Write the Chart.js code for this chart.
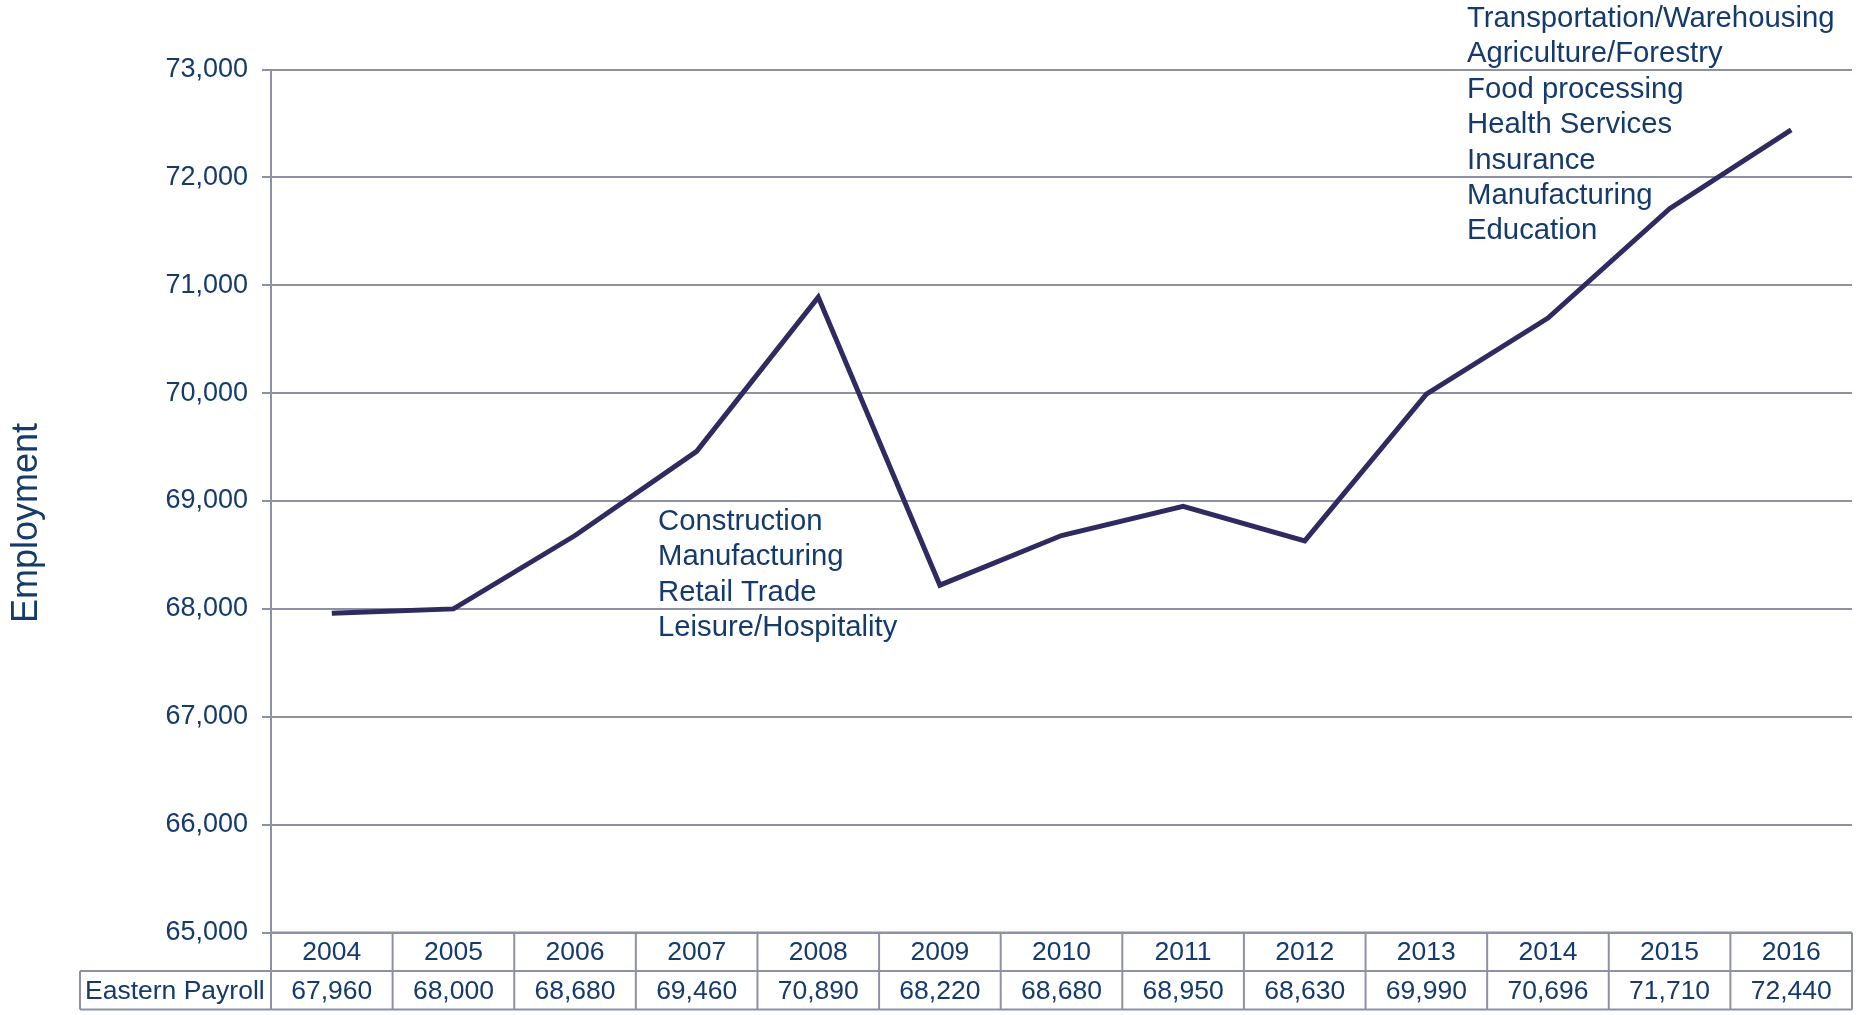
<!DOCTYPE html>
<html>
<head>
<meta charset="utf-8">
<script src="https://cdn.jsdelivr.net/npm/chart.js@4/dist/chart.umd.min.js"></script>
<style>
html,body{margin:0;padding:0;background:#fff;}
#wrap{width:1865px;height:1015px;position:relative;}
</style>
</head>
<body>
<div id="wrap"><canvas id="c" width="1865" height="1015"></canvas></div>
<script>
const years = ['2004','2005','2006','2007','2008','2009','2010','2011','2012','2013','2014','2015','2016'];
const easternPayroll = [67960,68000,68680,69460,70890,68220,68680,68950,68630,69990,70696,71710,72440];
const seriesName = 'Eastern Payroll';
const yTicks = [65000,66000,67000,68000,69000,70000,71000,72000,73000];
const axisTitle = 'Employment';
const noteLow = ['Construction','Manufacturing','Retail Trade','Leisure/Hospitality'];
const noteHigh = ['Transportation/Warehousing','Agriculture/Forestry','Food processing','Health Services','Insurance','Manufacturing','Education'];

const TEXT = '#153a6c';
const GRID = '#8e91a3';
const LINE = '#2f2a5f';
const FONT = 'Liberation Sans, Arial, sans-serif';

const fmt = v => v.toLocaleString('en-US');

const tablePlugin = {
  id: 'tablePlugin',
  afterDraw(chart) {
    const ctx = chart.ctx;
    const x = chart.scales.x;
    const area = chart.chartArea;
    const top = area.bottom;
    const rowH = 38.5;
    const mid = top + rowH;
    const bot = top + 2 * rowH;
    const left = 80;
    const n = years.length;
    const colW = (area.right - area.left) / n;
    ctx.save();
    ctx.strokeStyle = GRID;
    ctx.lineWidth = 2;
    ctx.beginPath();
    ctx.moveTo(area.left, top); ctx.lineTo(area.right, top);
    ctx.moveTo(left, mid); ctx.lineTo(area.right, mid);
    ctx.moveTo(left, bot); ctx.lineTo(area.right, bot);
    ctx.moveTo(left, mid); ctx.lineTo(left, bot);
    for (let i = 0; i <= n; i++) {
      const xx = area.left + i * colW;
      ctx.moveTo(xx, i === 0 ? area.top : top); ctx.lineTo(xx, bot);
    }
    ctx.stroke();
    ctx.fillStyle = TEXT;
    ctx.font = '26.5px ' + FONT;
    ctx.textAlign = 'center';
    ctx.textBaseline = 'middle';
    years.forEach((yr, i) => {
      const cx = x.getPixelForValue(i);
      ctx.fillText(yr, cx, top + rowH / 2 + 1);
      ctx.fillText(fmt(easternPayroll[i]), cx, mid + rowH / 2 + 1);
    });
    ctx.textAlign = 'left';
    ctx.fillText(seriesName, left + 5, mid + rowH / 2 + 1);
    ctx.restore();
  }
};

const notesPlugin = {
  id: 'notesPlugin',
  afterDatasetsDraw(chart) {
    const ctx = chart.ctx;
    ctx.save();
    ctx.fillStyle = TEXT;
    ctx.font = '29.3px ' + FONT;
    ctx.textAlign = 'left';
    ctx.textBaseline = 'middle';
    const lh = 35.4;
    noteLow.forEach((t, i) => ctx.fillText(t, 658, 522 + i * lh));
    noteHigh.forEach((t, i) => ctx.fillText(t, 1467, 19 + i * lh));
    // axis title
    ctx.translate(27, 523);
    ctx.rotate(-Math.PI / 2);
    ctx.textAlign = 'center';
    ctx.font = '36px ' + FONT;
    ctx.fillText(axisTitle, 0, 0);
    ctx.restore();
  }
};

new Chart(document.getElementById('c'), {
  type: 'line',
  data: {
    labels: years,
    datasets: [{
      label: seriesName,
      data: easternPayroll,
      borderColor: LINE,
      borderWidth: 5,
      pointRadius: 0,
      tension: 0,
      fill: false
    }]
  },
  options: {
    responsive: false,
    animation: false,
    layout: { padding: { top: 69.5, right: 13, bottom: 0, left: 0 } },
    plugins: { legend: { display: false }, tooltip: { enabled: false } },
    scales: {
      x: {
        offset: true,
        grid: { display: false },
        border: { display: false },
        ticks: { display: false },
        afterFit(s) { s.height = 1015 - 69.5 - 863; }
      },
      y: {
        min: 65000, max: 73000,
        afterBuildTicks(s) { s.ticks = yTicks.map(v => ({ value: v })); },
        ticks: {
          color: TEXT,
          font: { size: 27, family: FONT },
          padding: 14,
          callback: v => fmt(v)
        },
        grid: { color: GRID, lineWidth: 2, tickLength: 9, drawTicks: true },
        border: { display: true, color: GRID, width: 2 },
        title: { display: false },
        afterFit(s) { s.width = 271; }
      }
    }
  },
  plugins: [tablePlugin, notesPlugin]
});
</script>
</body>
</html>
